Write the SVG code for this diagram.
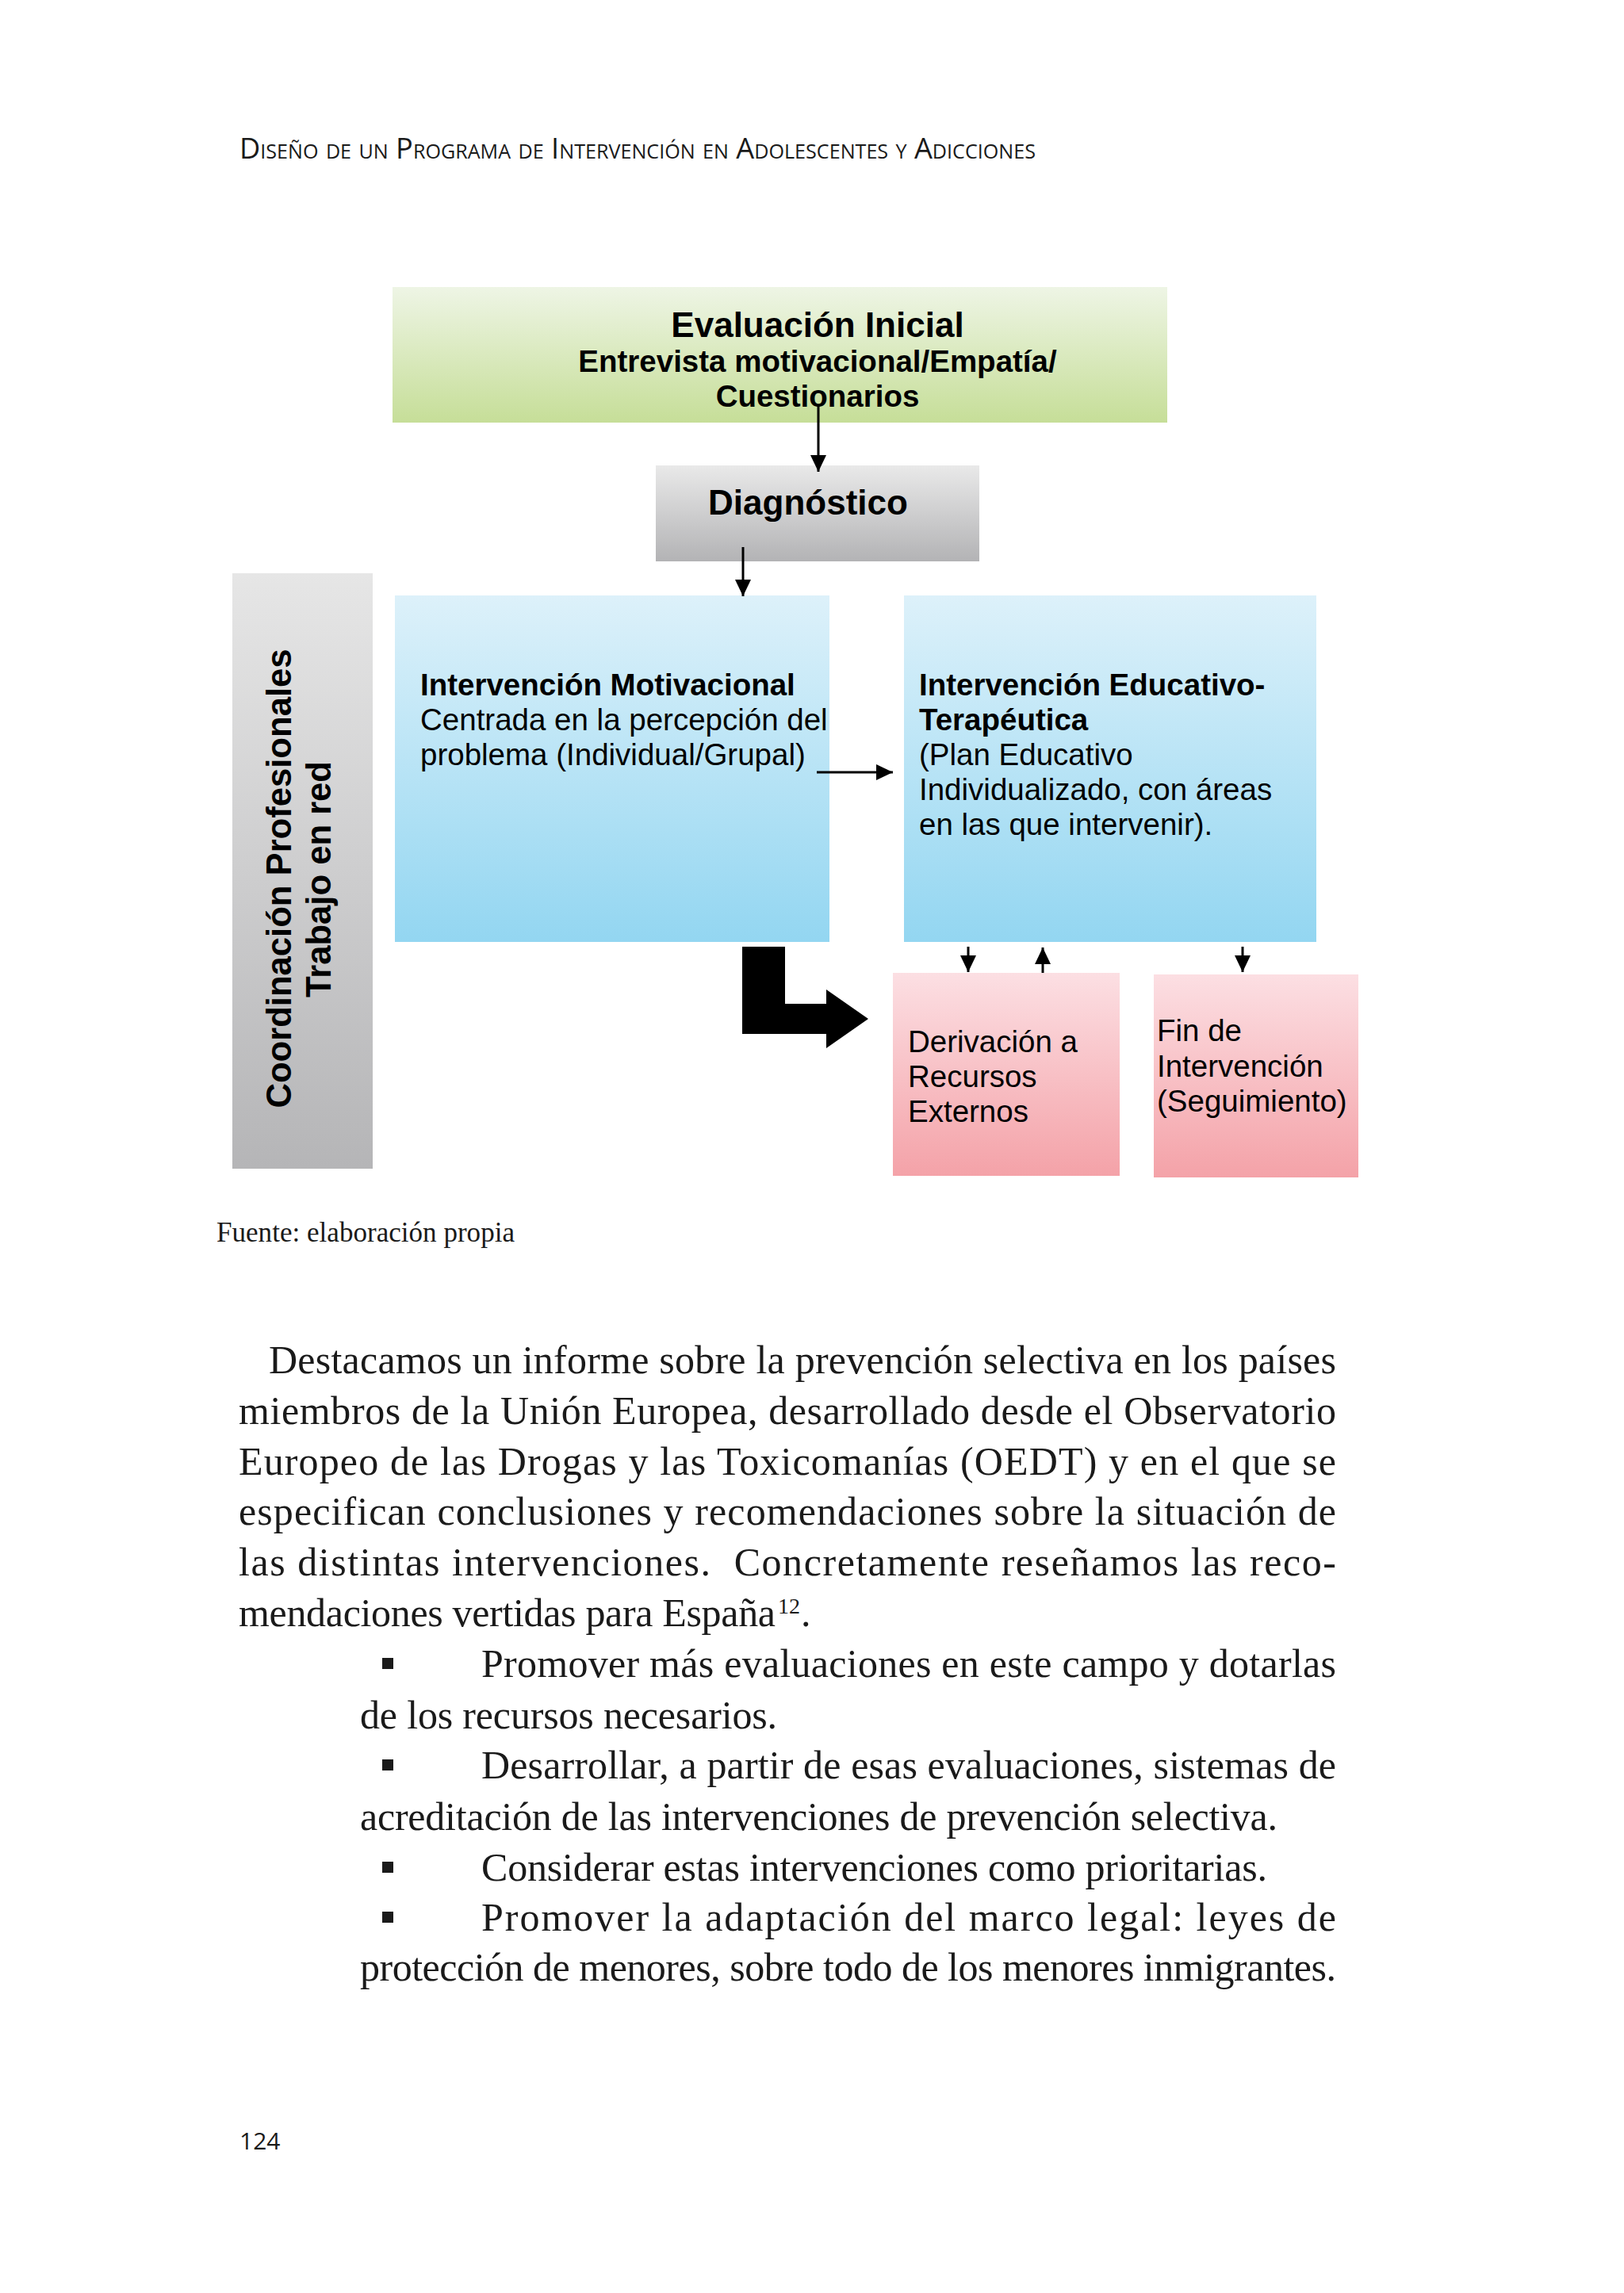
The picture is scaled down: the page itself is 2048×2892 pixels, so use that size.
<svg xmlns="http://www.w3.org/2000/svg" width="2048" height="2892" viewBox="0 0 2048 2892">
<defs>
<linearGradient id="gGreen" x1="0" y1="0" x2="0" y2="1"><stop offset="0" stop-color="#eef5e5"/><stop offset="1" stop-color="#c6de98"/></linearGradient>
<linearGradient id="gGray" x1="0" y1="0" x2="0" y2="1"><stop offset="0" stop-color="#e9e9e9"/><stop offset="1" stop-color="#b3b3b5"/></linearGradient>
<linearGradient id="gBar" x1="0" y1="0" x2="0" y2="1"><stop offset="0" stop-color="#e6e6e6"/><stop offset="1" stop-color="#b5b5b7"/></linearGradient>
<linearGradient id="gBlue" x1="0" y1="0" x2="0" y2="1"><stop offset="0" stop-color="#ddf1fa"/><stop offset="1" stop-color="#93d6f1"/></linearGradient>
<linearGradient id="gPink" x1="0" y1="0" x2="0" y2="1"><stop offset="0" stop-color="#fcdfe3"/><stop offset="1" stop-color="#f4a2a8"/></linearGradient>
<marker id="arr" markerUnits="userSpaceOnUse" markerWidth="22" markerHeight="22" refX="21" refY="10" orient="auto"><path d="M0,0 L21,10 L0,20 Z" fill="#000"/></marker>
</defs>
<style>
.sans{font-family:"Liberation Sans",Arial,sans-serif;fill:#000}
.b{font-weight:bold}
.f38{font-size:38.5px}
.serif{font-family:"Liberation Serif","Times New Roman",serif;fill:#1a1a1a}
.body{font-size:50px}
.hdr{font-family:"Open Sans","Noto Sans",sans-serif;fill:#1a1a1a}
.conn{stroke:#000;stroke-width:3;fill:none}
</style>
<rect width="2048" height="2892" fill="#fff"/>

<g id="page-header">
<text class="hdr" x="302" y="200" font-size="36" style="font-variant:small-caps" textLength="1004" lengthAdjust="spacingAndGlyphs">Diseño de un Programa de Intervención en Adolescentes y Adicciones</text>
</g>

<g id="node-evaluacion">
<rect x="495" y="362" width="977" height="171" fill="url(#gGreen)"/>
<text class="sans b" x="1031" y="425" font-size="44" text-anchor="middle">Evaluación Inicial</text>
<text class="sans b f38" x="1031" y="469" text-anchor="middle">Entrevista motivacional/Empatía/</text>
<text class="sans b f38" x="1031" y="513" text-anchor="middle">Cuestionarios</text>
</g>

<g id="node-diagnostico">
<rect x="827" y="587" width="408" height="121" fill="url(#gGray)"/>
<text class="sans b" x="1019" y="649" font-size="44" text-anchor="middle">Diagnóstico</text>
</g>

<g id="node-coordinacion">
<rect x="293" y="723" width="177" height="751" fill="url(#gBar)"/>
<text class="sans b" transform="translate(367,1108) rotate(-90)" font-size="45" text-anchor="middle" textLength="579" lengthAdjust="spacingAndGlyphs">Coordinación Profesionales</text>
<text class="sans b" transform="translate(417,1109) rotate(-90)" font-size="45" text-anchor="middle" textLength="298" lengthAdjust="spacingAndGlyphs">Trabajo en red</text>
</g>

<g id="node-motivacional">
<rect x="498" y="751" width="548" height="437" fill="url(#gBlue)"/>
<text class="sans b f38" x="530" y="877">Intervención Motivacional</text>
<text class="sans f38" x="530" y="921">Centrada en la percepción del</text>
<text class="sans f38" x="530" y="965">problema (Individual/Grupal)</text>
</g>

<g id="node-educativo">
<rect x="1140" y="751" width="520" height="437" fill="url(#gBlue)"/>
<text class="sans b f38" x="1159" y="877">Intervención Educativo-</text>
<text class="sans b f38" x="1159" y="921">Terapéutica</text>
<text class="sans f38" x="1159" y="965">(Plan Educativo</text>
<text class="sans f38" x="1159" y="1009">Individualizado, con áreas</text>
<text class="sans f38" x="1159" y="1053">en las que intervenir).</text>
</g>

<g id="node-derivacion">
<rect x="1126" y="1227" width="286" height="256" fill="url(#gPink)"/>
<text class="sans f38" x="1145" y="1327">Derivación a</text>
<text class="sans f38" x="1145" y="1371">Recursos</text>
<text class="sans f38" x="1145" y="1415">Externos</text>
</g>

<g id="node-fin">
<rect x="1455" y="1229" width="258" height="256" fill="url(#gPink)"/>
<text class="sans f38" x="1459" y="1313">Fin de</text>
<text class="sans f38" x="1459" y="1358">Intervención</text>
<text class="sans f38" x="1459" y="1402">(Seguimiento)</text>
</g>

<g id="connectors">
<path class="conn" d="M1032,510 V595" marker-end="url(#arr)"/>
<path class="conn" d="M937,690 V752" marker-end="url(#arr)"/>
<path class="conn" d="M1030,974 H1126" marker-end="url(#arr)"/>
<path class="conn" d="M1221,1194 V1226" marker-end="url(#arr)"/>
<path class="conn" d="M1315,1227 V1195" marker-end="url(#arr)"/>
<path class="conn" d="M1567,1194 V1226" marker-end="url(#arr)"/>
<path d="M936,1194 H990 V1266 H1042 V1248 L1095,1285 L1042,1322 V1304 H936 Z" fill="#000"/>
</g>

<g id="caption">
<text class="serif" x="273" y="1566" font-size="35" textLength="376" lengthAdjust="spacingAndGlyphs">Fuente: elaboración propia</text>
</g>

<g id="body-text" class="serif body">
<text x="339" y="1732" textLength="1346" lengthAdjust="spacing">Destacamos un informe sobre la prevención selectiva en los países</text>
<text x="301" y="1796" textLength="1384" lengthAdjust="spacing">miembros de la Unión Europea, desarrollado desde el Observatorio</text>
<text x="301" y="1860" textLength="1384" lengthAdjust="spacing">Europeo de las Drogas y las Toxicomanías (OEDT) y en el que se</text>
<text x="301" y="1923" textLength="1384" lengthAdjust="spacing">especifican conclusiones y recomendaciones sobre la situación de</text>
<text x="301" y="1987" textLength="1384" lengthAdjust="spacing">las distintas intervenciones.&#160; Concretamente reseñamos las reco-</text>
<text x="301" y="2051" textLength="677" lengthAdjust="spacing">mendaciones vertidas para España</text>
<text x="981" y="2035" font-size="28">12</text>
<text x="1010" y="2051">.</text>
<rect x="482" y="2091" width="14" height="14" fill="#1a1a1a"/>
<text x="607" y="2115" textLength="1078" lengthAdjust="spacing">Promover más evaluaciones en este campo y dotarlas</text>
<text x="454" y="2180" textLength="526" lengthAdjust="spacing">de los recursos necesarios.</text>
<rect x="482" y="2219" width="14" height="14" fill="#1a1a1a"/>
<text x="607" y="2243" textLength="1078" lengthAdjust="spacing">Desarrollar, a partir de esas evaluaciones, sistemas de</text>
<text x="454" y="2308" textLength="1157" lengthAdjust="spacing">acreditación de las intervenciones de prevención selectiva.</text>
<rect x="482" y="2348" width="14" height="14" fill="#1a1a1a"/>
<text x="607" y="2372" textLength="991" lengthAdjust="spacing">Considerar estas intervenciones como prioritarias.</text>
<rect x="482" y="2411" width="14" height="14" fill="#1a1a1a"/>
<text x="607" y="2435" textLength="1078" lengthAdjust="spacing">Promover la adaptación del marco legal: leyes de</text>
<text x="454" y="2498" textLength="1231" lengthAdjust="spacing">protección de menores, sobre todo de los menores inmigrantes.</text>
</g>

<g id="page-number">
<text class="hdr" x="302" y="2711" font-size="30">124</text>
</g>
</svg>
